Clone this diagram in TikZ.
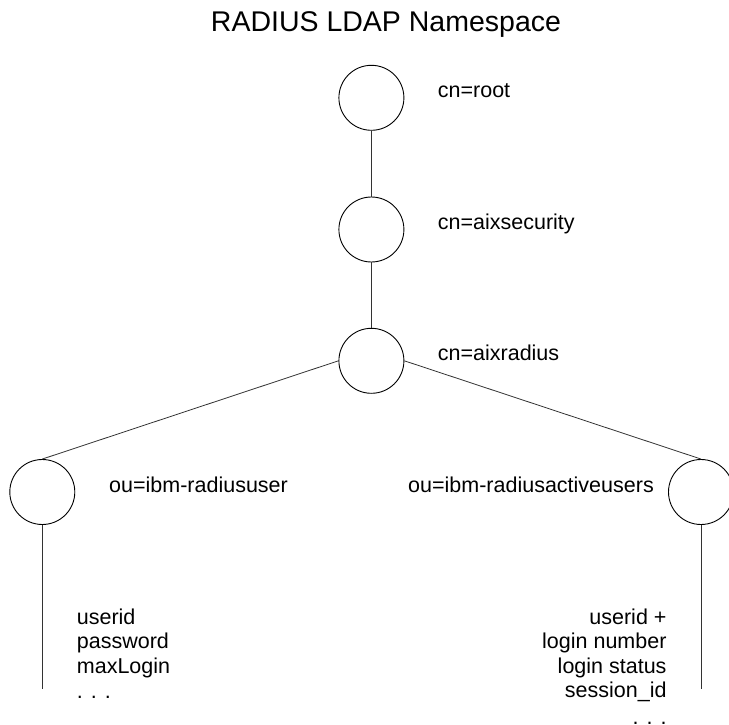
\documentclass[tikz,border=0pt]{standalone}
\usepackage{fontspec}
\setmainfont{Liberation Sans}
\begin{document}
\begin{tikzpicture}[x=1pt,y=-1pt,
  ent/.style={circle,draw,line width=0.9pt,minimum size=65pt,inner sep=0pt},
  lbl/.style={inner sep=0pt,font=\fontsize{21.5}{24.5}\selectfont},
  conn/.style={line width=0.8pt,draw=black!80}]
\useasboundingbox (0,0) rectangle (729,725);
\clip (0,0) rectangle (729,725);
\node[inner sep=0pt,anchor=base,font=\fontsize{28.5}{32}\selectfont] (title) at (386,32) {RADIUS LDAP Namespace};
\node[ent] (root) at (371.4,97.8) {};
\node[ent] (sec) at (371.4,229.5) {};
\node[ent] (rad) at (371.4,360.8) {};
\node[ent] (usr) at (42.3,492) {};
\node[ent] (act) at (701,492) {};
\node[lbl,anchor=base west] (lroot) at (437.7,97.7) {cn=root};
\node[lbl,anchor=base west] (lsec) at (437.7,229.3) {cn=aixsecurity};
\node[lbl,anchor=base west] (lrad) at (437.7,360.7) {cn=aixradius};
\node[lbl,anchor=base west] (lusr) at (109,492.7) {ou=ibm-radiususer};
\node[lbl,anchor=base east] (lact) at (654,492.7) {ou=ibm-radiusactiveusers};
\node[lbl,anchor=base west] (u1) at (76.7,624.3) {userid};
\node[lbl,anchor=base west] (u2) at (76.7,648.9) {password};
\node[lbl,anchor=base west] (u3) at (76.7,673.4) {maxLogin};
\node[lbl,anchor=base west] (u4) at (76.7,698) {. . .};
\node[lbl,anchor=base east] (a1) at (666.7,624.3) {userid +};
\node[lbl,anchor=base east] (a2) at (666.7,648.9) {login number};
\node[lbl,anchor=base east] (a3) at (666.7,673.4) {login status};
\node[lbl,anchor=base east] (a4) at (666.7,697.8) {session\_id};
\node[lbl,anchor=base east] (a5) at (666.7,724.5) {. . .};
\coordinate (uend) at (42.3,689.3);
\coordinate (aend) at (701,689.3);
\draw[conn] (root.south) -- (sec.north);
\draw[conn] (sec.south) -- (rad.north);
\draw[conn] (rad.west) -- (usr.north);
\draw[conn] (rad.east) -- (act.north);
\draw[conn] (usr.south) -- (uend);
\draw[conn] (act.south) -- (aend);
\end{tikzpicture}
\end{document}
